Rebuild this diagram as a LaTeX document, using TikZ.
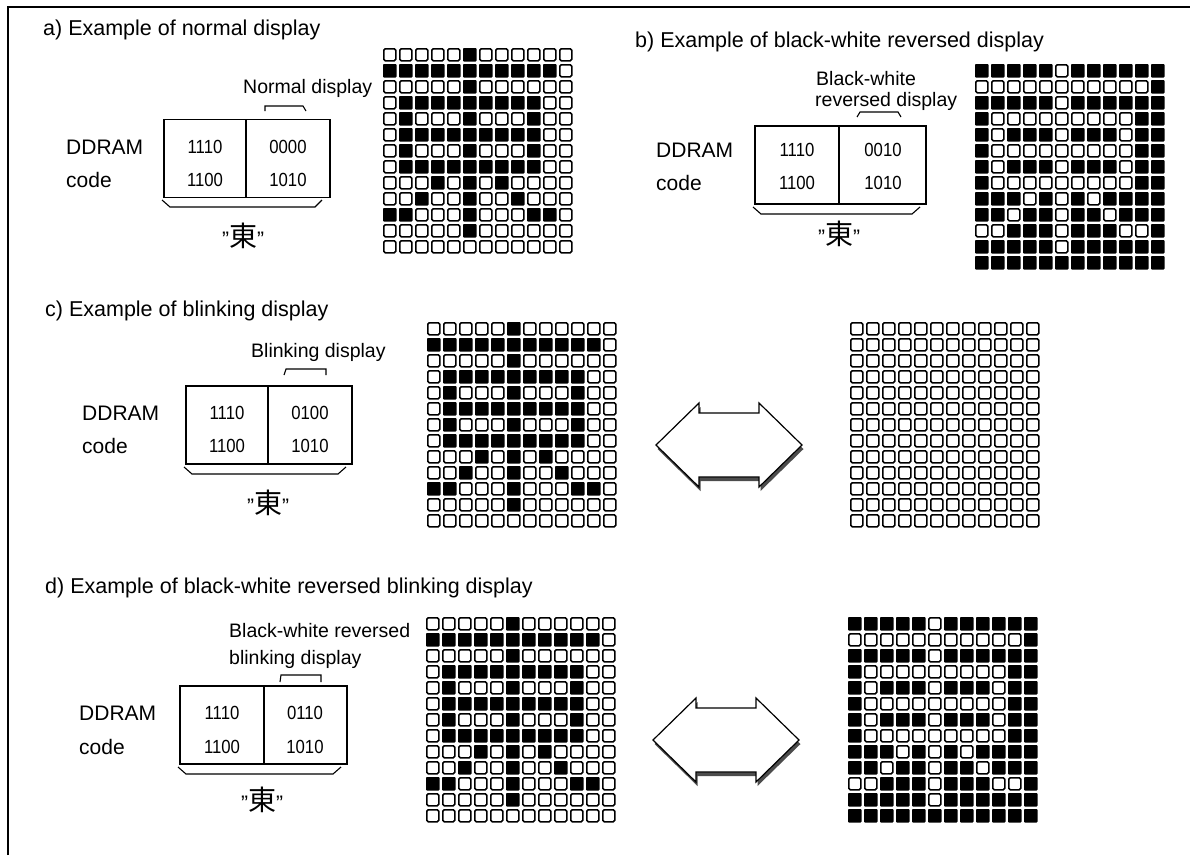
\documentclass[tikz,border=0pt]{standalone}
\usepackage{fontspec}
\setmainfont{Liberation Sans}
\newfontfamily\cjk{Noto Sans CJK JP}
\tikzset{
 title/.style={anchor=west, font=\fontsize{21.5}{24}\selectfont, inner sep=0pt},
 lbl/.style={anchor=west, font=\fontsize{19.5}{22}\selectfont, inner sep=0pt},
 ddr/.style={anchor=west, font=\fontsize{21}{24}\selectfont, inner sep=0pt},
 dig/.style={font=\fontsize{19}{21}\selectfont, xscale=0.88, inner sep=0pt},
 kanji/.style={inner sep=0pt, font=\fontsize{21}{24}\selectfont},
 half/.style={draw, line width=1.8pt, minimum height=78pt, inner sep=0pt},
 brk/.style={line width=1.1pt},
 shadowfill/.style={fill=black!70, draw=none},
 arrowbody/.style={fill=white, draw=black, line width=1.2pt, line join=miter},
}
\newcommand\dotgrid[3]{%
 \foreach \rowbits [count=\r from 0] in {
  {0,0,0,0,0,1,0,0,0,0,0,0},
  {1,1,1,1,1,1,1,1,1,1,1,0},
  {0,0,0,0,0,1,0,0,0,0,0,0},
  {0,1,1,1,1,1,1,1,1,1,0,0},
  {0,1,0,0,0,1,0,0,0,1,0,0},
  {0,1,1,1,1,1,1,1,1,1,0,0},
  {0,1,0,0,0,1,0,0,0,1,0,0},
  {0,1,1,1,1,1,1,1,1,1,0,0},
  {0,0,0,1,0,1,0,1,0,0,0,0},
  {0,0,1,0,0,1,0,0,1,0,0,0},
  {1,1,0,0,0,1,0,0,0,1,1,0},
  {0,0,0,0,0,1,0,0,0,0,0,0},
  {0,0,0,0,0,0,0,0,0,0,0,0}}{
  \foreach \b [count=\c from 0] in \rowbits {
   \pgfmathtruncatemacro\v{ifthenelse(#3==2,0,abs(\b-#3))}
   \ifnum\v=1
    \fill[rounded corners=0.8pt] ({#1+16*\c},{#2+16*\r}) rectangle ++(13.5,13.5);
   \else
    \draw[line width=1.5pt, rounded corners=1.5pt] ({#1+16*\c+0.75},{#2+16*\r+0.75}) rectangle ++(12,12);
   \fi
  }
 }
}
\newcommand\dblarrow[2]{%
 \begin{scope}[shift={(#1+1.5,#2+4)}]
  \fill[shadowfill] (-73,0) -- (-30,-42) -- (-30,-32) -- (30,-32) -- (30,-42) -- (73,0) -- (30,42) -- (30,32) -- (-30,32) -- (-30,42) -- cycle;
 \end{scope}
 \begin{scope}[shift={(#1,#2)}]
  \filldraw[arrowbody] (-73,0) -- (-30,-42) -- (-30,-32) -- (30,-32) -- (30,-42) -- (73,0) -- (30,42) -- (30,32) -- (-30,32) -- (-30,42) -- cycle;
 \end{scope}
}
\newcommand\kanjilabel{"{\cjk\fontsize{28}{30}\selectfont 東}"}
\begin{document}
\begin{tikzpicture}[x=1pt, y=-1pt]
\useasboundingbox (0,0) rectangle (1190,855);
\draw[line width=1.3pt] (8,855) -- (8,7) -- (1190,7);

% ---------- a) ----------
\node[title] (ta) at (43,30) {a) Example of normal display};
\node[lbl] (la) at (243,88) {Normal display};
\draw[brk] (265,111) -- (265,106) -- (303,106) -- (306,111);
\node[half, minimum width=82pt] (a1) at (205,158.5) {};
\node[half, minimum width=84pt] (a2) at (288,158.5) {};
\node[dig] (a11) at (205,147) {1110};
\node[dig] (a12) at (205,180) {1100};
\node[dig] (a21) at (288,147) {0000};
\node[dig] (a22) at (288,180) {1010};
\node[ddr] (da) at (66,147) {DDRAM};
\node[ddr] (ca) at (66,180) {code};
\draw[brk] (162,200) -- (170,207) -- (315,207) -- (322,200);
\node[kanji] (ka) at (243,236) {\kanjilabel};
\dotgrid{383}{48}{0}

% ---------- b) ----------
\node[title] (tb) at (635,42) {b) Example of black-white reversed display};
\node[lbl] (lb1) at (816,79) {Black-white};
\node[lbl] (lb2) at (815,101) {reversed display};
\draw[brk] (857,117) -- (860,112) -- (898,112) -- (901,117);
\node[half, minimum width=84pt] (b1) at (797,165) {};
\node[half, minimum width=87pt] (b2) at (882.5,165) {};
\node[dig] (b11) at (797,150) {1110};
\node[dig] (b12) at (797,183) {1100};
\node[dig] (b21) at (883,150) {0010};
\node[dig] (b22) at (883,183) {1010};
\node[ddr] (db) at (656,150) {DDRAM};
\node[ddr] (cb) at (656,183) {code};
\draw[brk] (753,207) -- (761,214) -- (912,214) -- (920,207);
\node[kanji] (kb) at (839,234) {\kanjilabel};
\dotgrid{975}{64}{1}

% ---------- c) ----------
\node[title] (tc) at (45,311) {c) Example of blinking display};
\node[lbl] (lc) at (251,352) {Blinking display};
\draw[brk] (284,375) -- (286,369) -- (326,369) -- (326,375);
\node[half, minimum width=82pt] (c1) at (227,425) {};
\node[half, minimum width=84pt] (c2) at (310,425) {};
\node[dig] (c11) at (227,413) {1110};
\node[dig] (c12) at (227,446) {1100};
\node[dig] (c21) at (310,413) {0100};
\node[dig] (c22) at (310,446) {1010};
\node[ddr] (dc) at (82,413) {DDRAM};
\node[ddr] (cc) at (82,446) {code};
\draw[brk] (184,467) -- (192,474) -- (338,474) -- (346,467);
\node[kanji] (kc) at (268,503) {\kanjilabel};
\dotgrid{427}{322}{0}
\dotgrid{850}{322}{2}
\dblarrow{729}{445}

% ---------- d) ----------
\node[title] (td) at (45,588) {d) Example of black-white reversed blinking display};
\node[lbl] (ld1) at (229,631) {Black-white reversed};
\node[lbl] (ld2) at (229,659) {blinking display};
\draw[brk] (280,682) -- (281,675) -- (321,675) -- (321,682);
\node[half, minimum width=84pt] (d1) at (222,725) {};
\node[half, minimum width=83pt] (d2) at (305.5,725) {};
\node[dig] (d11) at (222,713) {1110};
\node[dig] (d12) at (222,747) {1100};
\node[dig] (d21) at (305,713) {0110};
\node[dig] (d22) at (305,747) {1010};
\node[ddr] (dd) at (79,713) {DDRAM};
\node[ddr] (cd) at (79,747) {code};
\draw[brk] (178,767) -- (186,774) -- (333,774) -- (341,767);
\node[kanji] (kd) at (262,800) {\kanjilabel};
\dotgrid{426}{617}{0}
\dotgrid{848}{617}{1}
\dblarrow{726}{740}
\end{tikzpicture}
\end{document}
